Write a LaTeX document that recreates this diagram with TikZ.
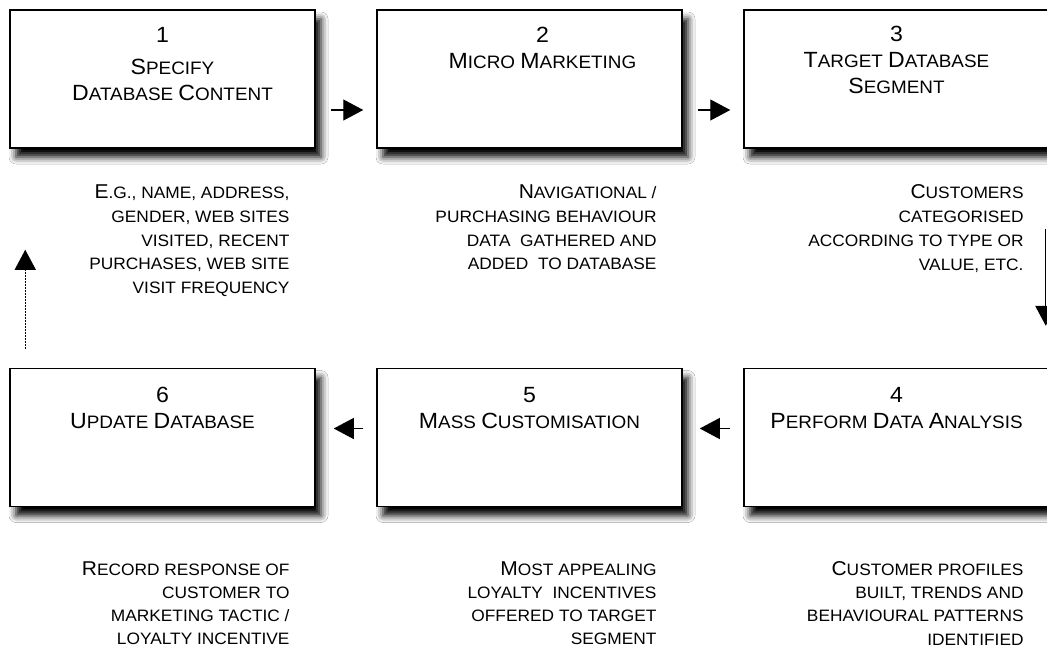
\documentclass[tikz,border=0pt]{standalone}
\usepackage{fontspec}
\setmainfont{Liberation Sans}[FakeStretch=1.05]
\usepackage{tikz}
\usetikzlibrary{positioning,arrows.meta,shadows.blur}
\newcommand{\bigsz}{20}
\newcommand{\upc}[1]{{\fontsize{\bigsz}{\bigsz}\selectfont #1}}
\tikzset{
  box/.style={draw, line width=1.5pt, fill=white, minimum width=305pt, minimum height=138pt, inner sep=0pt,
    blur shadow={shadow xshift=6pt, shadow yshift=-9pt, shadow blur radius=7pt, shadow opacity=100}},
  boxtitle/.style={align=center, inner sep=0pt, font=\renewcommand{\bigsz}{22}\fontsize{18}{26}\selectfont},
  note/.style={align=right, inner sep=0pt, font=\fontsize{16.5}{23.7}\selectfont},
  flow/.style={-{Triangle[length=20pt,width=21pt]}, line width=1.2pt},
}

\begin{document}
\begin{tikzpicture}[x=1pt, y=-1pt, node distance=60.5pt]
  \useasboundingbox[fill=white] (0,0) rectangle (1047,648);
  \node [box] (b1) at (162.5,79) {};
  \node [box, right=of b1] (b2) {};
  \node [box, right=of b2] (b3) {};
  \node [box, below=219pt of b1] (b6) {};
  \node [box, right=of b6] (b5) {};
  \node [box, right=of b5] (b4) {};

  \node [boxtitle, below=18pt of b1.north] (t1)
    {\upc{1}\\[6pt] \hspace*{20pt}\upc{S}PECIFY\\ \hspace*{20pt}\upc{D}ATABASE \upc{C}ONTENT};
  \node [boxtitle, below=18pt of b2.north, xshift=13pt] (t2) {\upc{2}\\ \upc{M}ICRO \upc{M}ARKETING};
  \node [boxtitle, below=17pt of b3.north] (t3) {\upc{3}\\ \upc{T}ARGET \upc{D}ATABASE\\ \upc{S}EGMENT};
  \node [boxtitle, below=19pt of b4.north] (t4) {\upc{4}\\ \upc{P}ERFORM \upc{D}ATA \upc{A}NALYSIS};
  \node [boxtitle, below=19pt of b5.north] (t5) {\upc{5}\\ \upc{M}ASS \upc{C}USTOMISATION};
  \node [boxtitle, below=19pt of b6.north] (t6) {\upc{6}\\ \upc{U}PDATE \upc{D}ATABASE};

  \node [note, below left=36pt and 26pt of b1.south east] (n1)
    {\upc{E}.G., NAME, ADDRESS,\\ GENDER, WEB SITES\\ VISITED, RECENT\\ PURCHASES, WEB SITE\\ VISIT FREQUENCY};
  \node [note, below left=36pt and 26pt of b2.south east] (n2)
    {\upc{N}AVIGATIONAL /\\ PURCHASING BEHAVIOUR\\ DATA~ GATHERED AND\\ ADDED~ TO DATABASE};
  \node [note, below left=36pt and 26pt of b3.south east] (n3)
    {\upc{C}USTOMERS\\ CATEGORISED\\ ACCORDING TO TYPE OR\\ VALUE, ETC.};
  \node [note, below left=54pt and 26pt of b4.south east, font=\fontsize{16.5}{23.2}\selectfont] (n4)
    {\upc{C}USTOMER PROFILES\\ BUILT, TRENDS AND\\ BEHAVIOURAL PATTERNS\\ IDENTIFIED};
  \node [note, below left=54pt and 26pt of b5.south east, font=\fontsize{16.5}{23.2}\selectfont] (n5)
    {\upc{M}OST APPEALING\\ LOYALTY~ INCENTIVES\\ OFFERED TO TARGET\\ SEGMENT};
  \node [note, below left=54pt and 26pt of b6.south east, font=\fontsize{16.5}{23.2}\selectfont] (n6)
    {\upc{R}ECORD RESPONSE OF\\ CUSTOMER TO\\ MARKETING TACTIC /\\ LOYALTY INCENTIVE};

  \draw [flow, shorten <=15pt, shorten >=13pt] ([yshift=-31pt]b1.east) -- ([yshift=-31pt]b2.west);
  \draw [flow, shorten <=15pt, shorten >=13pt] ([yshift=-31pt]b2.east) -- ([yshift=-31pt]b3.west);
  \draw [flow, line width=1.2pt, shorten <=80pt, shorten >=42pt]
    ([xshift=-4pt]b3.south east) -- ([xshift=-4pt]b4.north east);
  \draw [flow, shorten <=13pt, shorten >=17pt] ([yshift=9pt]b4.west) -- ([yshift=9pt]b5.east);
  \draw [flow, shorten <=13pt, shorten >=18pt] ([yshift=9pt]b5.west) -- ([yshift=9pt]b6.east);
  \draw [flow, dash pattern=on 1.3pt off 1.7pt, shorten <=19pt, shorten >=101pt]
    ([xshift=16pt]b6.north west) -- ([xshift=16pt]b1.south west);
\end{tikzpicture}
\end{document}
